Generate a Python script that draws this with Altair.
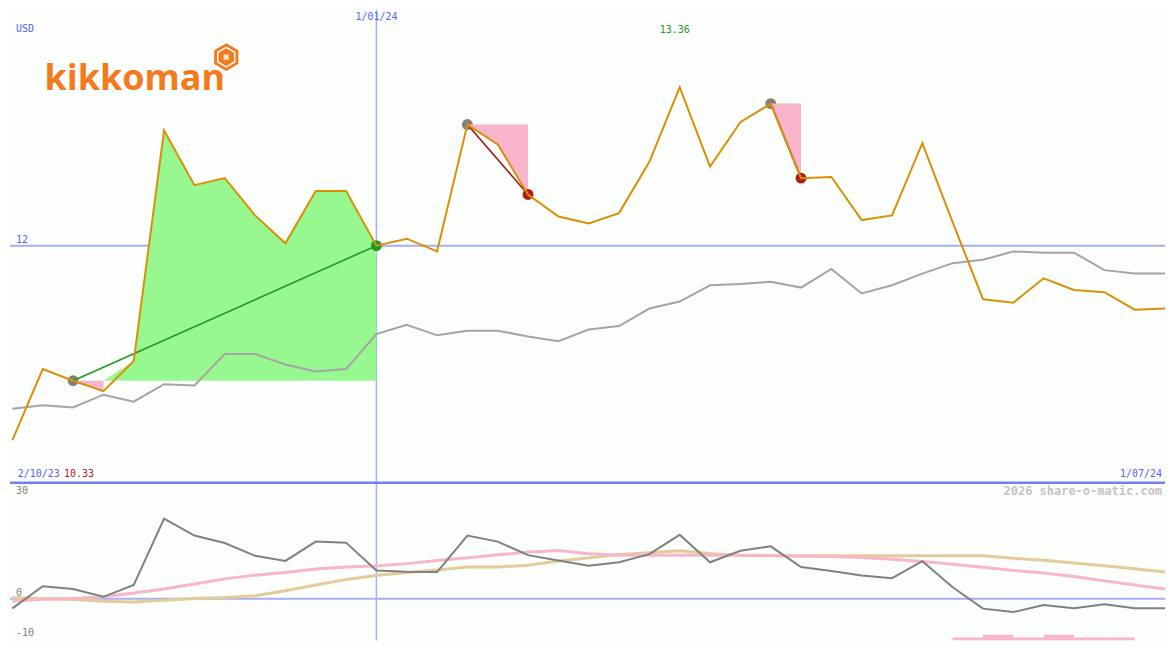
import altair as alt
import pandas as pd

# ---------------- data ----------------
week = list(range(39))  # weekly points 2/10/23 .. 1/07/24
price = [10.33, 10.94, 10.84, 10.75, 11.01, 12.99, 12.52, 12.58, 12.26, 12.02,
         12.47, 12.47, 12.00, 12.06, 11.95, 13.04, 12.87, 12.44, 12.25, 12.19,
         12.28, 12.72, 13.36, 12.68, 13.06, 13.22, 12.58, 12.59, 12.22, 12.26,
         12.88, 12.20, 11.54, 11.51, 11.72, 11.62, 11.60, 11.45, 11.46]
avg = [10.60, 10.63, 10.61, 10.72, 10.66, 10.81, 10.80, 11.07, 11.07, 10.98,
       10.92, 10.94, 11.24, 11.32, 11.23, 11.27, 11.27, 11.22, 11.18, 11.28,
       11.31, 11.46, 11.52, 11.66, 11.67, 11.69, 11.64, 11.80, 11.59, 11.66,
       11.76, 11.85, 11.88, 11.95, 11.94, 11.94, 11.79, 11.76, 11.76]
osc = [-2.8, 3.7, 2.9, 0.6, 4.1, 23.7, 18.7, 16.5, 12.7, 11.2,
       16.9, 16.6, 8.4, 8.0, 7.9, 18.7, 16.9, 12.9, 11.3, 9.8,
       10.8, 13.2, 18.9, 10.8, 14.2, 15.5, 9.4, 8.2, 6.9, 6.1,
       11.1, 3.4, -2.9, -3.9, -1.8, -2.8, -1.6, -2.8, -2.8]
sig_fast = [-0.7, -0.1, 0.1, 0.6, 1.7, 2.9, 4.4, 5.9, 7.0, 7.8,
            8.8, 9.4, 9.7, 10.4, 11.3, 12.1, 13.0, 13.8, 14.3, 13.3,
            12.9, 12.9, 12.9, 12.9, 12.9, 12.8, 12.6, 12.5, 12.2, 11.7,
            11.0, 10.2, 9.3, 8.4, 7.6, 6.6, 5.3, 4.1, 2.9]
sig_slow = [0.4, 0.1, -0.2, -0.7, -0.9, -0.4, 0.1, 0.4, 0.9, 2.4,
            4.1, 5.7, 6.9, 7.8, 8.5, 9.4, 9.4, 9.9, 11.2, 12.1,
            13.1, 13.6, 14.2, 13.4, 12.8, 12.7, 12.7, 12.7, 12.7, 12.7,
            12.7, 12.7, 12.7, 12.0, 11.4, 10.6, 9.8, 8.9, 7.9]
hist_week = [31, 32, 33, 34, 35, 36]
hist_val = [0.9, 1.7, 0.9, 1.7, 0.9, 0.9]
trade_start = [2, 15, 25]
trade_end = [12, 17, 26]
ref_level = 12
mark_week = 12
date_labels = ["2/10/23", "1/01/24", "1/07/24"]
osc_ticks = [30, 0, -10]
currency = "USD"
brand = "kikkoman"
watermark = "2026 share-o-matic.com"

# ---------------- styling / layout ----------------
W, HT, HB = 1157, 474, 158
SX, SY = W / 1175, (HT + HB) / 650
BG = "#fcfefc"
ORANGE = "#d89008"
GRAYL = "#a4a4a4"
GREENF = "#98f890"
PINKF = "#f8b4ca"
GREEN = "#209a20"
RED = "#b01c1c"
DARKRED = "#9c1010"
LBLUE = "#a6aef4"
SEPBLUE = "#7080f0"
TBLUE = "#5563f0"
LOGO = "#f47a1e"
MONO = "DejaVu Sans Mono"

xs = alt.Scale(domain=[-0.08, 38], nice=False, zero=False)
ys = alt.Scale(domain=[9.964, 14.028], nice=False, zero=False)
yb = alt.Scale(domain=[-12.29, 34.29], nice=False, zero=False)
X = lambda f="i": alt.X(f"{f}:Q", scale=xs, axis=None)
Y = lambda f="y": alt.Y(f"{f}:Q", scale=ys, axis=None)
YB = lambda f="y": alt.Y(f"{f}:Q", scale=yb, axis=None)

df = pd.DataFrame({"i": week, "price": price, "avg": avg, "osc": osc,
                   "fast": sig_fast, "slow": sig_slow})

# fills between price and trade-entry level, coloured by side
fill_rows = []
for k, (s, e) in enumerate(zip(trade_start, trade_end)):
    lvl = price[s]
    runs = []
    for i in range(s + 1, e + 1):
        up = price[i] >= lvl
        if runs and runs[-1][0] == up:
            runs[-1][1].append(i)
        else:
            runs.append([up, [i - 1, i]])
    for r, (up, pts) in enumerate(runs):
        for j in pts:
            fill_rows.append({"g": f"{k}-{r}", "i": j,
                              "y": max(price[j], lvl) if up else min(price[j], lvl),
                              "y2": lvl, "c": GREENF if up else PINKF})
fills = pd.DataFrame(fill_rows)

conn_rows, start_rows, end_rows = [], [], []
for k, (s, e) in enumerate(zip(trade_start, trade_end)):
    col = GREEN if price[e] >= price[s] else RED
    lcol = GREEN if price[e] >= price[s] else DARKRED
    conn_rows += [{"g": k, "i": s, "y": price[s], "c": lcol},
                  {"g": k, "i": e, "y": price[e], "c": lcol}]
    start_rows.append({"i": s, "y": price[s]})
    end_rows.append({"i": e, "y": price[e], "c": col})
conn = pd.DataFrame(conn_rows)
starts = pd.DataFrame(start_rows)
ends = pd.DataFrame(end_rows)

one = pd.DataFrame({"a": [0]})


def label(txt, x, y, color=TBLUE, size=10, align="left", weight="normal", font=MONO, baseline="middle"):
    return alt.Chart(one).mark_text(text=txt, color=color, fontSize=size, align=align,
                                    baseline=baseline, font=font, fontWeight=weight).encode(
        x=alt.value(x), y=alt.value(y))


# ---------------- top panel ----------------
h_rule = alt.Chart(pd.DataFrame({"y": [ref_level]})).mark_rule(color=LBLUE, strokeWidth=2).encode(y=Y())
v_rule = alt.Chart(pd.DataFrame({"i": [mark_week]})).mark_rule(color=LBLUE, strokeWidth=1.5).encode(x=X())

green_fill = alt.Chart(fills[fills.c == GREENF]).mark_area(clip=True, opacity=1, color=GREENF).encode(
    x=X(), y=Y(), y2="y2:Q", detail="g:N")
pink_fill = alt.Chart(fills[fills.c == PINKF]).mark_area(clip=True, opacity=1, color=PINKF).encode(
    x=X(), y=Y(), y2="y2:Q", detail="g:N")

avg_line = alt.Chart(df).mark_line(color=GRAYL, strokeWidth=2, clip=True).encode(x=X(), y=Y("avg"))
start_pts = alt.Chart(starts).mark_circle(color="#808080", size=120, opacity=1).encode(x=X(), y=Y())
end_pts = alt.Chart(ends).mark_circle(size=120, opacity=1).encode(
    x=X(), y=Y(), color=alt.Color("c:N", scale=None))
conn_lines = alt.Chart(conn).mark_line(strokeWidth=1.6).encode(
    x=X(), y=Y(), color=alt.Color("c:N", scale=None), detail="g:N")
price_line = alt.Chart(df).mark_line(color=ORANGE, strokeWidth=2, clip=True).encode(x=X(), y=Y("price"))

lbl_12 = alt.Chart(pd.DataFrame({"y": [ref_level]})).mark_text(
    text=str(ref_level), color=TBLUE, fontSize=10, align="left", baseline="bottom", font=MONO, dy=-1
).encode(x=alt.value(6 * SX), y=Y())
lbl_mid = alt.Chart(pd.DataFrame({"i": [mark_week]})).mark_text(
    text=date_labels[1], color=TBLUE, fontSize=10, align="center", baseline="middle", font=MONO
).encode(x=X(), y=alt.value(8 * SY))
imax = price.index(max(price))
lbl_max = alt.Chart(pd.DataFrame({"i": [imax]})).mark_text(
    text=f"{max(price):.2f}", color=GREEN, fontSize=10, align="center", baseline="middle", font=MONO, dx=-5
).encode(x=X(), y=alt.value(21 * SY))

# logo: hexagon emblem + word mark
hexpath = "M0,-1L0.866,-0.5L0.866,0.5L0,1L-0.866,0.5L-0.866,-0.5Z"
hx, hy = 220 * SX, 49 * SY
logo_hex1 = alt.Chart(one).mark_point(shape=hexpath, filled=True, color=LOGO, size=780, opacity=1).encode(
    x=alt.value(hx), y=alt.value(hy))
logo_hex2 = alt.Chart(one).mark_point(shape=hexpath, filled=False, color="white", strokeWidth=1.5,
                                      size=380, opacity=1).encode(x=alt.value(hx), y=alt.value(hy))
logo_core = alt.Chart(one).mark_point(shape="square", filled=True, color="#fde0c8", size=28, opacity=1).encode(
    x=alt.value(hx), y=alt.value(hy))
logo_txt = label(brand, 35 * SX, 83 * SY, color=LOGO, size=36, weight="bold", font="Open Sans",
                 baseline="alphabetic")

top = alt.layer(
    h_rule, v_rule, green_fill, start_pts, pink_fill, avg_line, end_pts, conn_lines, price_line,
    label(currency, 6 * SX, 20 * SY),
    lbl_12, lbl_mid, lbl_max,
    label(date_labels[0], 8 * SX, 479 * SY),
    label(f"{min(price):.2f}", 55 * SX, 479 * SY, color=RED),
    label(date_labels[2], 1172 * SX, 479 * SY, align="right"),
    logo_hex1, logo_hex2, logo_core, logo_txt,
).properties(width=W, height=HT)

# ---------------- bottom panel ----------------
hist = pd.DataFrame({"i": hist_week, "i2": [w + 1 for w in hist_week],
                     "y": [yb.domain[0] + v for v in hist_val], "y2": [yb.domain[0]] * len(hist_week)})
sep = alt.Chart(pd.DataFrame({"y": [yb.domain[1]]})).mark_rule(color=SEPBLUE, strokeWidth=2.5).encode(y=YB())
zero = alt.Chart(pd.DataFrame({"y": [0]})).mark_rule(color=LBLUE, strokeWidth=2).encode(y=YB())
v_rule_b = alt.Chart(pd.DataFrame({"i": [mark_week]})).mark_rule(color=LBLUE, strokeWidth=1.5).encode(x=X())
bars = alt.Chart(hist).mark_rect(color=PINKF, clip=True).encode(x=X(), x2="i2:Q", y=YB(), y2="y2:Q")
slow_line = alt.Chart(df).mark_line(color="#e2cc9a", strokeWidth=3, clip=True).encode(x=X(), y=YB("slow"))
fast_line = alt.Chart(df).mark_line(color="#f8b6c8", strokeWidth=3, clip=True).encode(x=X(), y=YB("fast"))
osc_line = alt.Chart(df).mark_line(color="#808080", strokeWidth=2, clip=True).encode(x=X(), y=YB("osc"))

bottom = alt.layer(
    zero, v_rule_b, bars, slow_line, fast_line, osc_line, sep,
    label(watermark, 1172 * SX, 9 * SY, color="#c4c4c4", size=12, align="right", weight="bold"),
    label(str(osc_ticks[0]), 6 * SX, 9 * SY, color="#808080"),
    label(str(osc_ticks[1]), 6 * SX, 114 * SY, color="#808080"),
    label(str(osc_ticks[2]), 6 * SX, 155 * SY, color="#808080"),
).properties(width=W, height=HB)

chart = alt.vconcat(top, bottom, spacing=0, bounds="flush").properties(
    background=BG, padding=0
).configure_view(stroke=None).configure_concat(spacing=0)

chart.save("out.html", embed_options={"renderer": "svg", "actions": False})
